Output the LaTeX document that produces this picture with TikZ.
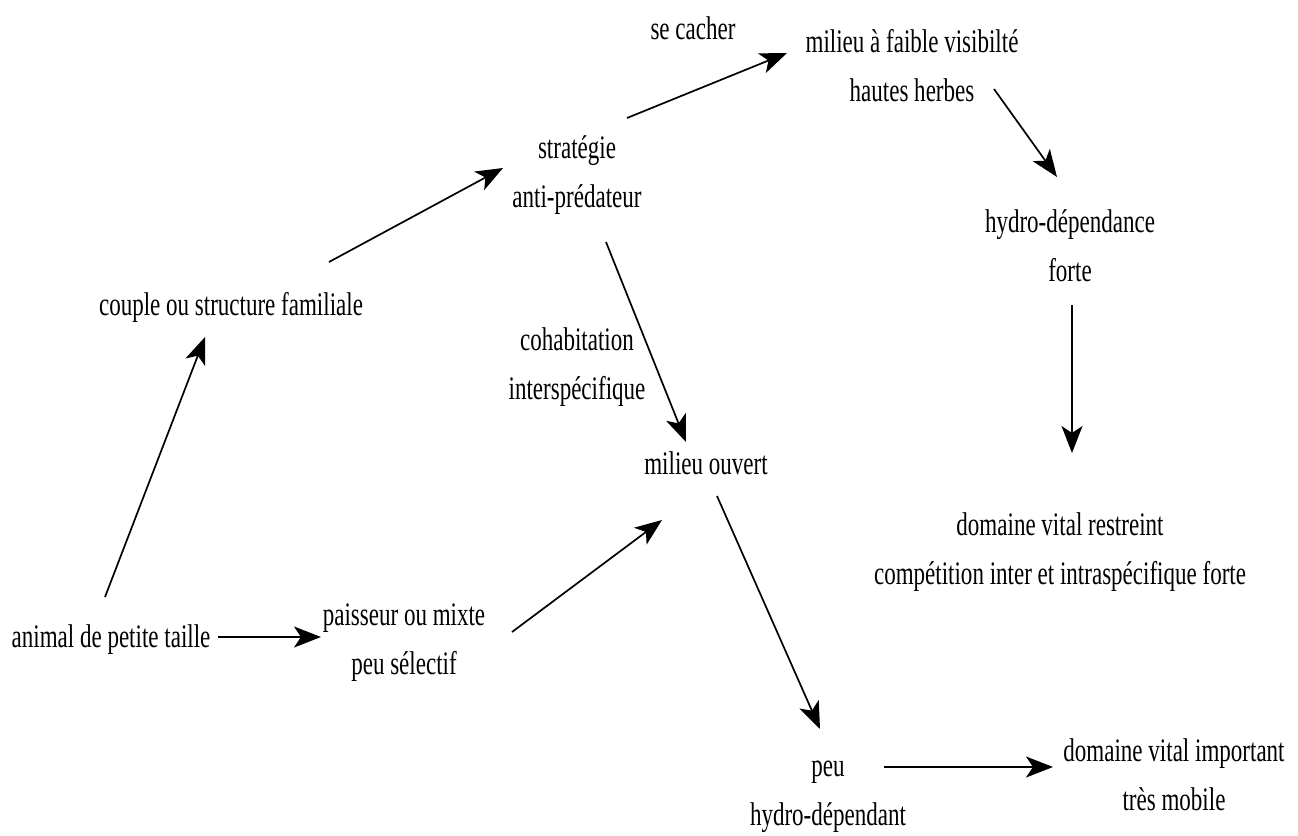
\documentclass[tikz,border=0pt]{standalone}
\usepackage{fontspec}
\setmainfont{Liberation Serif}[FakeStretch=0.70]
\usetikzlibrary{positioning,arrows.meta}

\begin{document}
\begin{tikzpicture}[
  x=1bp, y=-1bp, >={Stealth[length=27bp,width=21bp,inset=7bp]},
  lbl/.style={align=center, inner sep=0pt, anchor=base, font=\fontsize{33}{49}\selectfont},
  link/.style={->, line width=1.7bp},
]
  \useasboundingbox (0,0) rectangle (1298,836);
  % nodes (placed at their last baseline)
  \node[lbl] (cacher) at (693,39) {se cacher};
  \node[lbl] (faible) at (912,101) {milieu à faible visibilté\\hautes herbes};
  \node[lbl] (strat) at (577,207) {stratégie\\anti-prédateur};
  \node[lbl] (hydrof) at (1070,281) {hydro-dépendance\\forte};
  \node[lbl] (couple) at (231,315) {couple ou structure familiale};
  \node[lbl] (cohab) at (577,399) {cohabitation\\interspécifique};
  \node[lbl] (ouvert) at (706,474) {milieu ouvert};
  \node[lbl] (restr) at (1060,584) {domaine vital restreint\\compétition inter et intraspécifique forte};
  \node[lbl] (animal) at (111,647) {animal de petite taille};
  \node[lbl] (paiss) at (404,674) {paisseur ou mixte\\peu sélectif};
  \node[lbl] (peu) at (828,825) {peu\\hydro-dépendant};
  \node[lbl] (import) at (1174,810) {domaine vital important\\très mobile};
  % connectors
  \draw[link] ([shift={(-6,-50)}]animal.base) -- ([shift={(-26,22)}]couple.base);
  \draw[link] ([shift={(98,-53)}]couple.base) -- ([shift={(-74,-39)}]strat.base);
  \draw[link] ([shift={(50,-89)}]strat.base) -- ([shift={(-125,-48)}]faible.base);
  \draw[link] ([shift={(82,-12)}]faible.base) -- ([shift={(-13,-104)}]hydrof.base);
  \draw[link] ([shift={(2,24)}]hydrof.base) -- ([shift={(12,-131)}]restr.base);
  \draw[link] ([shift={(29,35)}]strat.base) -- ([shift={(-20,-32)}]ouvert.base);
  \draw[link] ([shift={(107,-10)}]animal.base) -- ([shift={(-83,-37)}]paiss.base);
  \draw[link] ([shift={(108,-42)}]paiss.base) -- ([shift={(-44,46)}]ouvert.base);
  \draw[link] ([shift={(11,22)}]ouvert.base) -- ([shift={(-8,-96)}]peu.base);
  \draw[link] ([shift={(56,-58)}]peu.base) -- ([shift={(-121,-43)}]import.base);
\end{tikzpicture}
\end{document}
